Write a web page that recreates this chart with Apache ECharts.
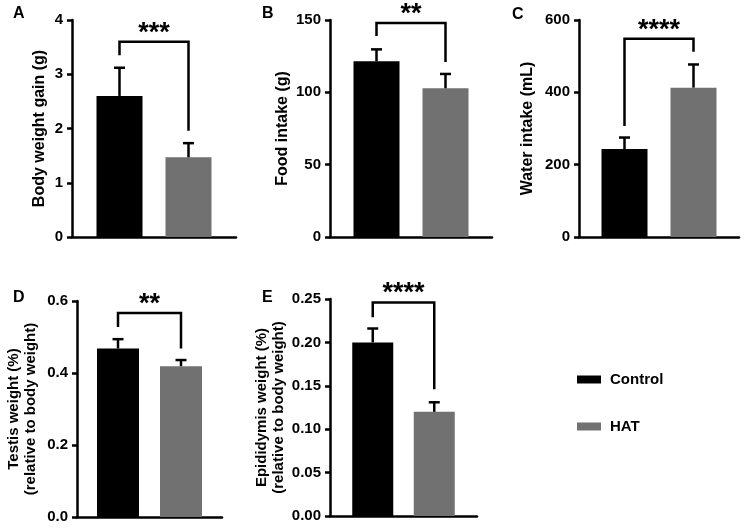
<!DOCTYPE html>
<html><head><meta charset="utf-8">
<script src="https://cdn.jsdelivr.net/npm/echarts@6/dist/echarts.min.js"></script>
<style>html,body{margin:0;padding:0;background:#fff}#c{width:744px;height:529px}</style>
</head><body><div id="c"></div>
<script>
// ---- data ----
const panelLabels = ['A', 'B', 'C', 'D', 'E'];
const groups = ['Control', 'HAT'];
const yTitles = ['Body weight gain (g)', 'Food intake (g)', 'Water intake (mL)',
  'Testis weight (%)\n(relative to body weight)', 'Epididymis weight (%)\n(relative to body weight)'];
const yMax = [4, 150, 600, 0.6, 0.25];
const yInterval = [1, 50, 200, 0.2, 0.05];
const yDecimals = [0, 0, 0, 1, 2];
const controlMean = [2.60, 121.4, 243, 0.468, 0.200];
const controlSD = [0.52, 8.3, 32, 0.026, 0.016];
const hatMean = [1.47, 102.8, 413, 0.419, 0.120];
const hatSD = [0.26, 9.9, 64, 0.017, 0.011];
const bracketTop = [3.60, 148, 548, 0.567, 0.246];
const bracketLeftEnd = [3.35, 139, 307, 0.528, 0.229];
const bracketRightEnd = [1.96, 121, 512, 0.468, 0.146];
const stars = ['***', '**', '****', '**', '****'];

// ---- layout / style ----
const FONT = '"Liberation Sans", Arial, sans-serif';
const colors = ['#000000', '#717171'];
const grids = [
  {left: 72, top: 20, width: 164, height: 217},
  {left: 330, top: 20, width: 162, height: 217},
  {left: 579, top: 20, width: 160, height: 217},
  {left: 77, top: 301, width: 145, height: 216},
  {left: 330, top: 299, width: 147, height: 217}
];
const barWidths = [46, 46, 46, 42, 41];
const nameGaps = [24, 39, 43, 38, 43];
const titleSizes = [16, 16, 16, 15, 15];
const tickSizes = [15, 15, 15, 15, 15];
const labelPos = [[19, 15], [268, 15], [518, 16], [19, 299], [268, 299]];

const xAxes = [], yAxes = [], series = [];
grids.forEach((g, i) => {
  xAxes.push({
    gridIndex: i, type: 'category', data: [''],
    axisLine: {lineStyle: {color: '#000', width: 2.5}},
    axisTick: {show: false}, axisLabel: {show: false}, splitLine: {show: false}
  });
  yAxes.push({
    gridIndex: i, type: 'value', min: 0, max: yMax[i], interval: yInterval[i],
    axisLine: {show: true, lineStyle: {color: '#000', width: 2.5}},
    axisTick: {show: true, length: 5, lineStyle: {color: '#000', width: 2.5}},
    axisLabel: {color: '#000', fontSize: tickSizes[i], fontWeight: 'bold', fontFamily: FONT, margin: 9,
      formatter: v => v.toFixed(yDecimals[i])},
    splitLine: {show: false},
    name: yTitles[i], nameLocation: 'middle', nameGap: nameGaps[i],
    nameTextStyle: {color: '#000', fontSize: titleSizes[i], fontWeight: 'bold', fontFamily: FONT, lineHeight: 17}
  });
  const means = [controlMean[i], hatMean[i]];
  groups.forEach((name, k) => {
    series.push({
      type: 'bar', name: name, xAxisIndex: i, yAxisIndex: i,
      data: [means[k]], barWidth: barWidths[i], barGap: '50%',
      itemStyle: {color: colors[k]}, z: 2
    });
  });
  const bw = barWidths[i];
  series.push({
    type: 'custom', xAxisIndex: i, yAxisIndex: i, z: 5, silent: true,
    data: [[0, controlMean[i], controlMean[i] + controlSD[i], hatMean[i], hatMean[i] + hatSD[i],
      bracketTop[i], bracketLeftEnd[i], bracketRightEnd[i]]],
    renderItem: function (params, api) {
      const cx = api.coord([0, 0])[0];
      const off = bw * 0.75;
      const xs = [cx - off, cx + off];
      const Y = v => api.coord([0, v])[1];
      const ln = {stroke: '#000', lineWidth: 2.5, fill: null};
      const children = [];
      [[1, 2], [3, 4]].forEach((d, k) => {
        const x = xs[k], y0 = Y(api.value(d[0])), y1 = Y(api.value(d[1]));
        children.push({type: 'line', shape: {x1: x, y1: y0, x2: x, y2: y1}, style: ln});
        children.push({type: 'line', shape: {x1: x - 5.5, y1: y1, x2: x + 5.5, y2: y1}, style: ln});
      });
      const yt = Y(api.value(5));
      children.push({type: 'polyline', shape: {points: [[xs[0], Y(api.value(6))], [xs[0], yt], [xs[1], yt], [xs[1], Y(api.value(7))]]}, style: ln});
      children.push({type: 'text', style: {text: stars[i], x: (xs[0] + xs[1]) / 2, y: yt + 5,
        align: 'center', verticalAlign: 'bottom', fill: '#000',
        font: 'bold 27px ' + FONT}});
      return {type: 'group', children: children};
    }
  });
});

const chart = echarts.init(document.getElementById('c'), null, {renderer: 'canvas'});
chart.setOption({
  backgroundColor: '#fff',
  animation: false,
  grid: grids,
  xAxis: xAxes,
  yAxis: yAxes,
  series: series,
  legend: {
    data: groups, orient: 'vertical', left: 572, top: 367, icon: 'rect',
    itemWidth: 24, itemHeight: 8, itemGap: 32, selectedMode: false,
    textStyle: {color: '#000', fontSize: 15, fontWeight: 'bold', fontFamily: FONT, padding: [0, 0, 0, 4]}
  },
  graphic: panelLabels.map((t, i) => ({
    type: 'text', left: labelPos[i][0] - 6, top: labelPos[i][1] - 9,
    style: {text: t, fill: '#000', font: 'bold 16px ' + FONT}
  }))
});
</script></body></html>
